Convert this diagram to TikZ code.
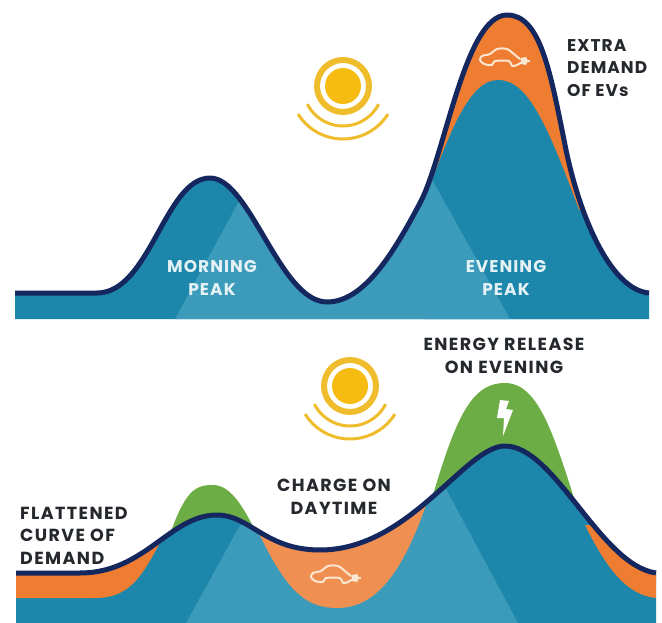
\documentclass[tikz,border=0pt]{standalone}
\usepackage{fontspec}
\setmainfont{Poppins}
\definecolor{navy}{HTML}{14275F}
\definecolor{tealD}{HTML}{1D87AB}
\definecolor{tealL}{HTML}{3C9ABA}
\definecolor{orng}{HTML}{EE7D32}
\definecolor{orngL}{HTML}{EF9052}
\definecolor{grn}{HTML}{6CAE45}
\definecolor{sun}{HTML}{F6BC12}
\definecolor{sunring}{HTML}{EFBC2C}
\definecolor{ink}{HTML}{25282C}
\definecolor{pale}{HTML}{E4F1F5}
\definecolor{iconc}{HTML}{FBE6D2}
\tikzset{
  x=1pt,y=-1pt,
  curve/.style={navy,line width=5pt,line cap=butt,line join=round},
  lab/.style={font=\bfseries\fontsize{17}{22.5}\selectfont\addfontfeature{LetterSpace=6},text=ink,align=left,inner sep=0pt,anchor=north west},
  labb/.style={lab,font=\bfseries\fontsize{17.5}{22.5}\selectfont\addfontfeature{LetterSpace=8}},
  labc/.style={labb,align=center,anchor=center},
  labw/.style={lab,align=center,anchor=center,text=pale},
  pics/sunicon/.style={code={
    \fill[sun] (0,0) circle[radius=18];
    \draw[sunring,line width=6pt] (0,0) circle[radius=26];
    \draw[sunring,line width=3pt] plot[smooth,domain=27:153,samples=25] ({40*cos(\x)},{40*sin(\x)});
    \draw[sunring,line width=3pt] plot[smooth,domain=32:148,samples=25] ({53*cos(\x)},{53*sin(\x)});
  }},
  pics/caricon/.style={code={
    \draw[iconc,line width=2pt,line join=round,line cap=round] plot[smooth,tension=.5] coordinates {(41,2) (36,5) (31,6) (28,1) (14,1) (11,5) (3,4) (-1,0) (1,-4) (9,-6) (16,-11) (26,-11) (34,-5) (39,-1)};
    \fill[iconc] (40,-2) -- (45,-3) -- (47,1) -- (45,5) -- (40,4) -- cycle;
    \draw[iconc,line width=1.2pt] (46,1) -- (49,1);
  }},
}
\newcommand{\TopCurve}{(15,293) -- (97,293) .. controls (150,293) and (165,178) .. (210,178) .. controls (250,178) and (280,302) .. (327,302) .. controls (365,302) and (395,250) .. (420,203) .. controls (445,156) and (465,15) .. (507,15) .. controls (540,15) and (550,70) .. (565,145) .. controls (580,220) and (612,290) .. (649,293)}
\newcommand{\BotCurve}{(16,573) -- (80,573) .. controls (145,573) and (170,515) .. (217,515) .. controls (250,515) and (265,550) .. (320,550) .. controls (410,550) and (465,446) .. (505,446) .. controls (555,446) and (600,565) .. (656,573)}
\begin{document}
\begin{tikzpicture}
\useasboundingbox (0,0) rectangle (662,623);
% ---- top panel
\fill[tealD] \TopCurve -- (649,319) -- (15,319) -- cycle;
\begin{scope}
  \clip \TopCurve -- (649,319) -- (15,319) -- cycle;
  \fill[orng] (430,0) rectangle (590,210);
  \fill[tealD] (425,319) -- (425,200) .. controls (450,130) and (470,80) .. (498,80) .. controls (530,80) and (550,130) .. (590,240) -- (600,319) -- cycle;
  \fill[tealL] (175,319) -- (238,203) -- (300,150) -- (425,167) -- (510,319) -- cycle;
\end{scope}
\draw[curve] \TopCurve;
\pic at (343,86) {sunicon};
\pic at (481,60) {caricon};
\node[lab] (extra) at (567,39) {EXTRA\\DEMAND\\OF EVs};
\node[labw] (morning) at (212,278) {MORNING\\PEAK};
\node[labw] (evening) at (506,278) {EVENING\\PEAK};
% ---- bottom panel
\fill[grn] (168,540) .. controls (185,490) and (195,485) .. (213,485) .. controls (232,485) and (245,510) .. (260,540) -- cycle;
\fill[grn] (430,505) .. controls (455,420) and (470,383) .. (505,383) .. controls (540,383) and (555,440) .. (578,510) -- cycle;
\fill[tealD] \BotCurve -- (656,623) -- (16,623) -- cycle;
\begin{scope}
  \clip \BotCurve -- (656,623) -- (16,623) -- cycle;
  \fill[orng] (16,540) -- (16,598) -- (95,598) .. controls (135,598) and (145,570) .. (172,520) -- cycle;
  \fill[orng] (585,525) .. controls (605,565) and (625,595) .. (656,598) -- (662,525) -- cycle;
  \fill[tealL] (186,623) -- (239,527) -- (300,480) -- (438,474) -- (518,623) -- cycle;
  \fill[orngL] (255,525) .. controls (285,590) and (305,608) .. (337,608) .. controls (372,608) and (400,580) .. (426,505) -- cycle;
\end{scope}
\draw[curve] \BotCurve;
\pic at (350,386) {sunicon};
\pic at (312,577) {caricon};
\fill[white] (500,400) -- (509,401) -- (506,409) -- (513,410) -- (503,436) -- (504,418) -- (497,418) -- cycle;
\node[labc] (release) at (504,356) {ENERGY RELEASE\\ON EVENING};
\node[labc] (charge) at (334,497) {CHARGE ON\\DAYTIME};
\node[labb,anchor=north west,align=left] (flat) at (20,507) {FLATTENED\\CURVE OF\\DEMAND};
\end{tikzpicture}
\end{document}
